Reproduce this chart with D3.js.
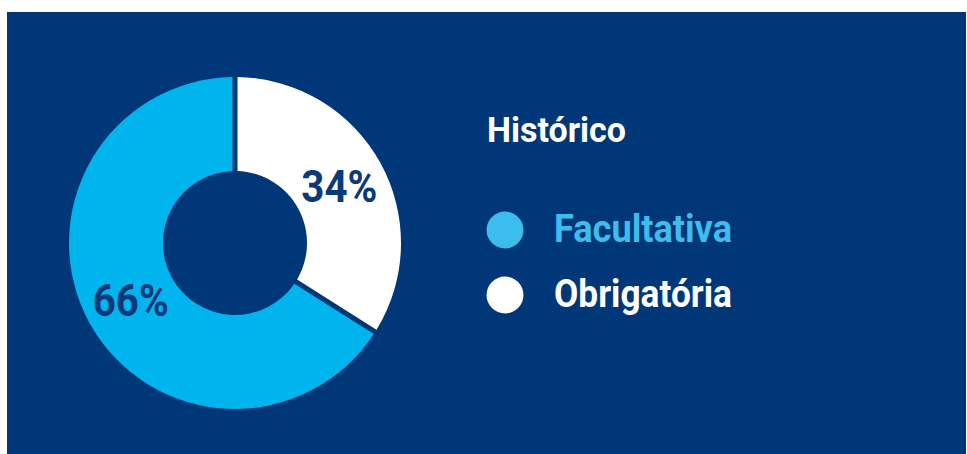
<!DOCTYPE html>
<html><head><meta charset="utf-8">
<script src="https://cdn.jsdelivr.net/npm/d3@7"></script>
<style>html,body{margin:0;padding:0;background:#fff;}svg{display:block;}</style>
</head><body>
<svg id="c" width="967" height="454"></svg>
<script>
const categories = ["Obrigatória", "Facultativa"];
const values = [34, 66];
const labels = ["34%", "66%"];
const legendTitle = "Histórico";
const legendOrder = ["Facultativa", "Obrigatória"];

const colors = {"Obrigatória": "#ffffff", "Facultativa": "#00b4ee"};
const legendText = {"Facultativa": "#3dbdee", "Obrigatória": "#ffffff"};
const bg = "#003778";

const svg = d3.select("#c");
svg.append("rect").attr("x", 7).attr("y", 12).attr("width", 959).attr("height", 442).attr("fill", bg);

const cx = 235, cy = 243, rOut = 166, rIn = 72;
const pie = d3.pie().sort(null).value(d => d.v);
const arc = d3.arc().innerRadius(rIn).outerRadius(rOut).padAngle(0.028);
const data = pie(categories.map((c, i) => ({c, v: values[i], l: labels[i]})));

const g = svg.append("g").attr("transform", `translate(${cx},${cy})`);
g.selectAll("path").data(data).join("path")
  .attr("d", arc).attr("fill", d => colors[d.data.c]);

g.selectAll("text").data(data).join("text")
  .attr("transform", d => `translate(${arc.centroid(d)})`)
  .attr("dy", 16)
  .attr("text-anchor", "middle")
  .attr("font-family", "Roboto")
  .attr("font-weight", 700)
  .attr("font-size", 45)
  .attr("textLength", 76).attr("lengthAdjust", "spacingAndGlyphs")
  .attr("fill", "#0b3a7a")
  .text(d => d.data.l);

svg.append("text").attr("x", 487).attr("y", 142)
  .attr("font-family", "Roboto").attr("font-weight", 700).attr("font-size", 35)
  .attr("textLength", 139).attr("lengthAdjust", "spacingAndGlyphs")
  .attr("fill", "#fff").text(legendTitle);

const ly = d3.scalePoint().domain(legendOrder).range([230, 295]);
const lg = svg.append("g");
legendOrder.forEach(name => {
  lg.append("circle").attr("cx", 505).attr("cy", ly(name)).attr("r", 18.5).attr("fill", legendText[name]);
  lg.append("text").attr("x", 554).attr("y", ly(name) + 12)
    .attr("font-family", "Roboto").attr("font-weight", 700).attr("font-size", 38)
    .attr("textLength", 178).attr("lengthAdjust", "spacingAndGlyphs")
    .attr("fill", legendText[name]).text(name);
});
</script>
</body></html>
